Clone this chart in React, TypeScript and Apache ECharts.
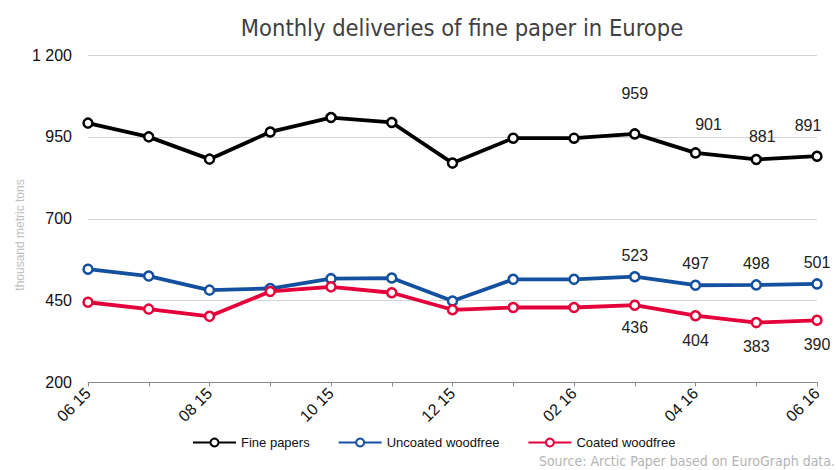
import React, { useEffect, useRef } from "react";
import * as echarts from "echarts";

const categories = ["06 15", "07 15", "08 15", "09 15", "10 15", "11 15", "12 15", "01 16", "02 16", "03 16", "04 16", "05 16", "06 16"];
const finePapers = [992, 950, 882, 965, 1009, 994, 870, 946, 946, 959, 901, 881, 891];
const uncoated = [546, 525, 482, 487, 517, 519, 449, 515, 515, 523, 497, 498, 501];
const coated = [445, 424, 402, 478, 492, 474, 422, 429, 429, 436, 404, 383, 390];
const yTicks = [200, 450, 700, 950, 1200];

const labelIdx = [9, 10, 11, 12];
const fineOffsets: [number, number][] = [[0, -22], [13, -10], [6, -4], [-9, -12]];
const uncoatedOffsets: [number, number][] = [[0, -2], [0, -3], [0, -3], [0, -3]];
const coatedOffsets: [number, number][] = [[0, 4], [0, 6], [0, 5], [0, 5]];

const FONT = "'Liberation Sans', Arial, sans-serif";
const NARROW = "'DejaVu Sans Condensed', 'DejaVu Sans', sans-serif";

function buildData(vals: number[], offsets: [number, number][], pos: string) {
  return vals.map((v, i) => {
    const k = labelIdx.indexOf(i);
    if (k < 0) return v;
    return {
      value: v,
      label: {
        show: true,
        position: pos,
        offset: offsets[k],
        fontSize: 16,
        fontFamily: FONT,
        color: "#222",
      },
    };
  });
}

export default function App() {
  const ref = useRef<HTMLDivElement>(null);
  useEffect(() => {
    if (!ref.current) return;
    const chart = echarts.init(ref.current, undefined, { renderer: "svg" });
    const mkSeries = (name: string, color: string, vals: number[], offs: [number, number][], pos: string) => ({
      name,
      type: "line",
      data: buildData(vals, offs, pos),
      symbol: "circle",
      symbolSize: 9,
      showAllSymbol: true,
      lineStyle: { color, width: 3.8 },
      itemStyle: { color: "#fff", borderColor: color, borderWidth: 2.5 },
      emphasis: { disabled: true },
      z: 3,
    });
    chart.setOption({
      animation: false,
      title: {
        text: "Monthly deliveries of fine paper in Europe",
        left: 457,
        textAlign: "center",
        top: 11,
        textStyle: { fontFamily: NARROW, fontWeight: "normal", fontSize: 23.5, color: "#404040" },
      },
      grid: { left: 88, right: 19, top: 55, bottom: 87.5, containLabel: false },
      legend: {
        left: 187,
        top: 431,
        itemWidth: 43,
        itemHeight: 10,
        itemGap: 28,
        textStyle: { fontFamily: FONT, fontSize: 13, color: "#111" },
        data: ["Fine papers", "Uncoated woodfree", "Coated woodfree"],
      },
      xAxis: {
        type: "category",
        data: categories,
        boundaryGap: false,
        axisLine: { lineStyle: { color: "#8a8a8a", width: 1 } },
        axisTick: { show: true, length: 4, interval: 0, lineStyle: { color: "#8a8a8a" } },
        axisLabel: { interval: 1, rotate: 45, margin: 8, fontFamily: FONT, fontSize: 16, color: "#111" },
        splitLine: { show: false },
      },
      yAxis: {
        type: "value",
        min: yTicks[0],
        max: yTicks[yTicks.length - 1],
        interval: 250,
        axisLine: { show: false },
        axisTick: { show: false },
        axisLabel: {
          margin: 16,
          fontFamily: FONT,
          fontSize: 16,
          color: "#111",
          formatter: (v: number) => (v >= 1000 ? `${Math.floor(v / 1000)} ${String(v % 1000).padStart(3, "0")}` : String(v)),
        },
        splitLine: { lineStyle: { color: "#d4d4d4", width: 1 } },
      },
      graphic: [
        {
          type: "text",
          x: 20,
          y: 235,
          rotation: Math.PI / 2,
          style: {
            text: "thousand metric tons",
            fontFamily: FONT,
            fontSize: 12,
            fill: "#bdbdbd",
            textAlign: "center",
            textVerticalAlign: "middle",
          },
        },
        {
          type: "text",
          right: 1,
          top: 454,
          style: {
            text: "Source: Arctic Paper based on EuroGraph data.",
            fontFamily: NARROW,
            fontSize: 14,
            fill: "#b4b4b4",
          },
        },
      ],
      series: [
        mkSeries("Fine papers", "#000000", finePapers, fineOffsets, "top"),
        mkSeries("Uncoated woodfree", "#1450a0", uncoated, uncoatedOffsets, "top"),
        mkSeries("Coated woodfree", "#e4003a", coated, coatedOffsets, "bottom"),
      ],
    });
    return () => chart.dispose();
  }, []);
  return <div ref={ref} style={{ width: 836, height: 470, position: "absolute", left: 0, top: 0 }} />;
}
